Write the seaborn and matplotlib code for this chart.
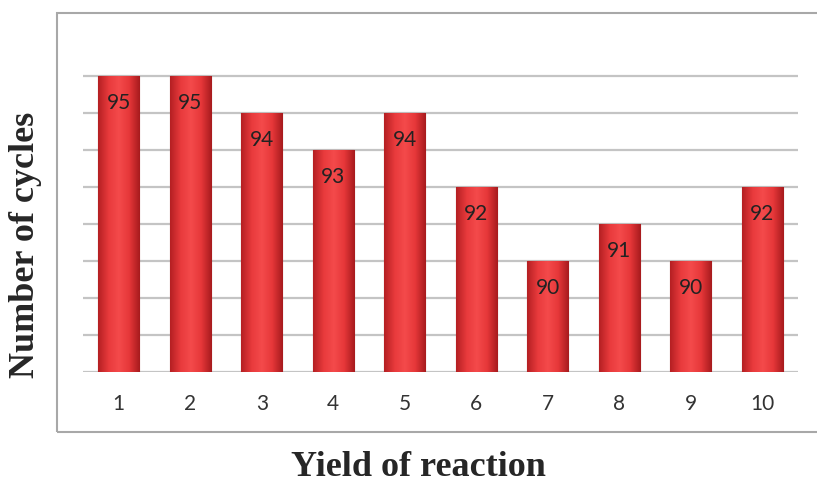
import numpy as np
import pandas as pd
import matplotlib.pyplot as plt
import matplotlib.colors as mcolors
from matplotlib.patches import Rectangle
import seaborn as sns

# data
cycles = ["1", "2", "3", "4", "5", "6", "7", "8", "9", "10"]
yields = [95, 95, 94, 93, 94, 92, 90, 91, 90, 92]
y_min, y_max = 87, 96

df = pd.DataFrame({"cycle": cycles, "yield": yields})

sns.set_style("white")
W, H = 817, 483
fig = plt.figure(figsize=(W / 100, H / 100), dpi=100)
ax = fig.add_axes([83 / W, 1 - 372 / H, 715 / W, 333 / H])

sns.barplot(data=df, x="cycle", y="yield", color="#e53537", width=0.58,
            edgecolor="#8e1416", linewidth=0.8, ax=ax, zorder=3)

ax.set_ylim(y_min, y_max)
ax.set_xlim(-0.5, len(cycles) - 0.5)
ax.set_yticks(np.arange(y_min, 96))
ax.set_yticklabels([])
ax.grid(axis="y", color="#c4c4c4", linewidth=1.6, zorder=0)
ax.tick_params(axis="both", length=0)
ax.tick_params(axis="x", pad=16, labelsize=15, labelcolor="#333333")
for lbl in ax.get_xticklabels():
    lbl.set_family(["Lato", "DejaVu Sans"])
for s in ax.spines.values():
    s.set_visible(False)
ax.set_xlabel("")
ax.set_ylabel("")

# horizontal shading on each bar, clipped to the bar shape
cmap = mcolors.LinearSegmentedColormap.from_list(
    "bar", ["#b52023", "#e83a3c", "#f44a4b", "#e63739", "#a81b1e"])
grad = np.linspace(0, 1, 64).reshape(1, -1)
for p, v in zip(ax.patches, yields):
    x0, w = p.get_x(), p.get_width()
    im = ax.imshow(grad, cmap=cmap, aspect="auto", zorder=3.5,
                   extent=[x0, x0 + w, y_min, p.get_height()])
    im.set_clip_path(p)
    ax.text(x0 + w / 2, v - 0.72, str(v), ha="center", va="center",
            fontsize=15, color="#222222", zorder=5,
            family=["Lato", "DejaVu Sans"])

# outer frame around the chart
fig.patches.append(Rectangle((57 / W, 1 - 432 / H), 1.0, (432 - 13) / H,
                             transform=fig.transFigure, fill=False,
                             edgecolor="#a8a8a8", linewidth=1.5))

fig.text(26 / W, 1 - 245 / H, "Number of cycles", rotation=90,
         ha="center", va="center", fontsize=26, fontweight="bold",
         family=["Liberation Serif", "DejaVu Serif"])
fig.text(418 / W, 1 - 468 / H, "Yield of reaction",
         ha="center", va="center", fontsize=26, fontweight="bold",
         family=["Liberation Serif", "DejaVu Serif"])

plt.savefig("out.png", dpi=100)
plt.close()
